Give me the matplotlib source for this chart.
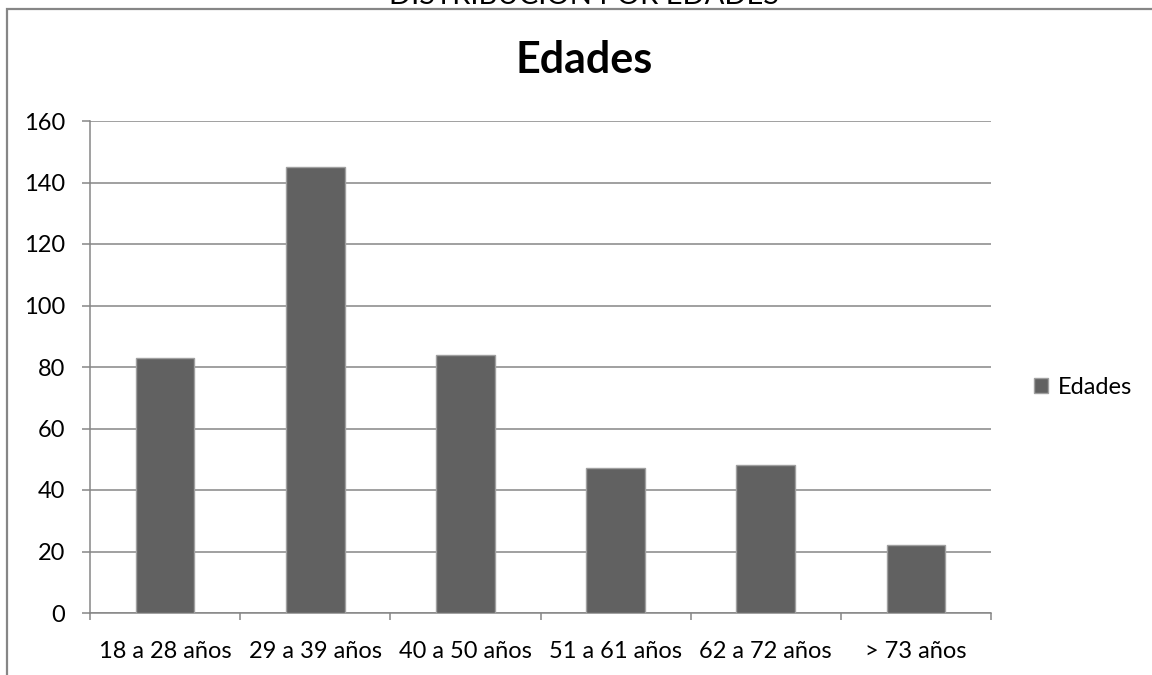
import matplotlib
matplotlib.use("Agg")
import matplotlib.pyplot as plt
from matplotlib.patches import Rectangle

categories = ["18 a 28 años", "29 a 39 años", "40 a 50 años",
              "51 a 61 años", "62 a 72 años", "> 73 años"]
edades = [83, 145, 84, 47, 48, 22]
y_ticks = [0, 20, 40, 60, 80, 100, 120, 140, 160]

plt.rcParams['font.family'] = ['Lato', 'DejaVu Sans']

W, H = 1152, 675
fig = plt.figure(figsize=(W / 100, H / 100), dpi=100)

# chart area border (right and bottom edges fall outside the picture)
fig.add_artist(Rectangle((7 / W, -0.2), 1.5, 1.2 - 9 / H, transform=fig.transFigure,
                         fill=False, edgecolor="#868686", linewidth=1.6))

fig.text(584 / W, 1 + 5 / H, "DISTRIBUCIÓN POR EDADES", ha="center", va="center",
         fontsize=21, color="black")
fig.text(584 / W, 1 - 60 / H, "Edades", ha="center", va="center",
         fontsize=31, fontweight="bold", color="black")

ax = fig.add_axes([90 / W, 1 - 613 / H, (991 - 90) / W, (613 - 121) / H])
x = list(range(len(categories)))
ax.bar(x, edades, width=0.39, color="#616161", edgecolor="#a0a0a0",
       linewidth=1.0, label="Edades", zorder=3)

ax.set_xlim(-0.5, len(categories) - 0.5)
ax.set_ylim(0, 160)
ax.set_yticks(y_ticks)
ax.tick_params(axis="y", length=6, width=1.1, color="#868686", labelsize=17, pad=12)

ax.set_xticks([i - 0.5 for i in range(len(categories) + 1)])
ax.set_xticklabels([])
ax.set_xticks(x, minor=True)
ax.set_xticklabels(categories, minor=True)
ax.tick_params(axis="x", which="major", length=5, width=1.1, color="#868686")
ax.tick_params(axis="x", which="minor", length=0, labelsize=17, pad=20)

ax.yaxis.grid(True, color="#868686", linewidth=1.1, zorder=0)
ax.set_axisbelow(True)
for side in ["top", "right"]:
    ax.spines[side].set_visible(False)
for side in ["left", "bottom"]:
    ax.spines[side].set_color("#868686")
    ax.spines[side].set_linewidth(1.1)

fig.legend(loc="center left", bbox_to_anchor=(1022 / W, 1 - 387 / H), frameon=False,
           handlelength=0.6, handleheight=0.6, handletextpad=0.4, borderpad=0,
           fontsize=17)

fig.savefig("out.png", dpi=100)
